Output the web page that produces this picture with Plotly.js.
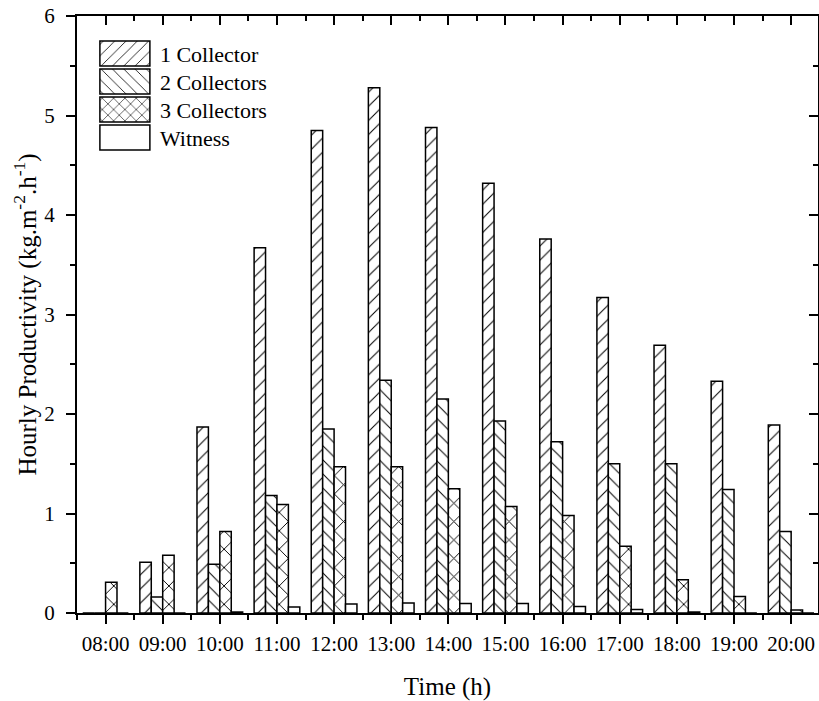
<!DOCTYPE html>
<html>
<head>
<meta charset="utf-8">
<script src="https://cdn.plot.ly/plotly-3.0.1.min.js"></script>
<style>
  html, body { margin: 0; padding: 0; background: #fff; }
  #chart { width: 819px; height: 701px; }
</style>
</head>
<body>
<div id="chart"></div>
<script>
// ---- Data ----
var times = ['08:00', '09:00', '10:00', '11:00', '12:00', '13:00', '14:00',
             '15:00', '16:00', '17:00', '18:00', '19:00', '20:00'];
var oneCollector   = [0, 0.51, 1.87, 3.67, 4.85, 5.28, 4.88, 4.32, 3.76, 3.17, 2.69, 2.33, 1.89];
var twoCollectors  = [0, 0.16, 0.49, 1.18, 1.85, 2.34, 2.15, 1.93, 1.72, 1.50, 1.50, 1.24, 0.82];
var threeCollectors= [0.31, 0.58, 0.82, 1.09, 1.47, 1.47, 1.25, 1.07, 0.98, 0.67, 0.335, 0.165, 0.03];
var witness        = [0, 0, 0.01, 0.06, 0.09, 0.10, 0.095, 0.095, 0.066, 0.036, 0.01, 0, 0];
var seriesNames = ['1 Collector', '2 Collectors', '3 Collectors', 'Witness'];

// ---- Styling ----
var FONT = 'Liberation Serif, Times New Roman, serif';
var idx = times.map(function (t, i) { return i; });

function barTrace(name, values, shape, size, solidity) {
  return {
    type: 'bar',
    name: name,
    x: idx,
    y: values,
    marker: {
      color: 'white',
      line: { color: 'black', width: 1.5 },
      pattern: { shape: shape, fgcolor: 'black', bgcolor: 'white', size: size, solidity: solidity }
    },
    hoverinfo: 'x+y+name'
  };
}

var data = [
  barTrace(seriesNames[0], oneCollector, '/', 10, 0.1),
  barTrace(seriesNames[1], twoCollectors, '\\', 10, 0.1),
  barTrace(seriesNames[2], threeCollectors, 'x', 13, 0.14),
  barTrace(seriesNames[3], witness, '', 10, 0.1),
  // invisible helper trace so the mirrored frame axes (top / right) are drawn
  { type: 'scatter', mode: 'none', x: idx, y: oneCollector, xaxis: 'x2', yaxis: 'y2',
    showlegend: false, hoverinfo: 'skip' }
];

var xRange = [-0.5, 12.47];
var commonX = {
  range: xRange,
  tickmode: 'array',
  tickvals: idx,
  showline: true,
  linecolor: 'black',
  linewidth: 2,
  showgrid: false,
  zeroline: false,
  tickcolor: 'black',
  tickwidth: 2
};

var layout = {
  width: 819,
  height: 701,
  margin: { l: 77, r: 1, t: 16, b: 88 },
  paper_bgcolor: 'white',
  plot_bgcolor: 'white',
  barmode: 'group',
  bargap: 0.2,
  bargroupgap: 0,
  font: { family: FONT, color: 'black', size: 20 },
  showlegend: true,
  legend: {
    x: 0.0174, y: 0.972, xanchor: 'left', yanchor: 'top',
    bgcolor: 'rgba(0,0,0,0)',
    borderwidth: 0,
    itemwidth: 60,
    font: { family: FONT, size: 22, color: 'black' },
    tracegroupgap: 0
  },
  xaxis: Object.assign({}, commonX, {
    ticktext: times,
    ticks: 'outside',
    ticklen: 9,
    ticklabelstandoff: 2,
    tickfont: { family: FONT, size: 21, color: 'black' },
    minor: { tickmode: 'linear', tick0: -0.5, dtick: 1, ticks: 'outside', ticklen: 5, tickwidth: 2, tickcolor: 'black', showgrid: false },
    title: { text: 'Time (h)', font: { family: FONT, size: 25, color: 'black' }, standoff: 25 },
    automargin: false
  }),
  xaxis2: Object.assign({}, commonX, {
    overlaying: 'x',
    side: 'top',
    anchor: 'y2',
    ticks: 'inside',
    ticklen: 9,
    showticklabels: false,
    minor: { tickmode: 'linear', tick0: -0.5, dtick: 1, ticks: 'inside', ticklen: 5, tickwidth: 2, tickcolor: 'black', showgrid: false }
  }),
  yaxis: {
    range: [0, 6],
    tickmode: 'linear',
    tick0: 0,
    dtick: 1,
    ticks: 'outside',
    ticklen: 9,
    tickwidth: 2,
    tickcolor: 'black',
    showline: true,
    linecolor: 'black',
    linewidth: 2,
    showgrid: false,
    zeroline: false,
    ticklabelstandoff: 7,
    tickfont: { family: FONT, size: 21, color: 'black' },
    minor: { tickmode: 'linear', tick0: 0, dtick: 0.5, ticks: 'outside', ticklen: 5, tickwidth: 2, tickcolor: 'black', showgrid: false },
    title: { text: 'Hourly Productivity (kg.m<sup>-2</sup>.h<sup>-1</sup>)', font: { family: FONT, size: 25, color: 'black' }, standoff: 1 },
    automargin: false
  },
  yaxis2: {
    overlaying: 'y',
    side: 'right',
    anchor: 'x2',
    range: [0, 6],
    tickmode: 'linear',
    tick0: 0,
    dtick: 1,
    ticks: 'inside',
    ticklen: 9,
    tickwidth: 2,
    tickcolor: 'black',
    showline: true,
    linecolor: 'black',
    linewidth: 2,
    showgrid: false,
    zeroline: false,
    showticklabels: false,
    minor: { tickmode: 'linear', tick0: 0, dtick: 0.5, ticks: 'inside', ticklen: 5, tickwidth: 2, tickcolor: 'black', showgrid: false }
  }
};

Plotly.newPlot('chart', data, layout, { displayModeBar: false, staticPlot: true }).then(function (gd) {
  // Enlarge the legend sample boxes to resemble the reference's wide swatches
  var paths = gd.querySelectorAll('.legend .legendpoints path');
  paths.forEach(function (p) {
    p.setAttribute('d', 'M-25,12.5H25V-12.5H-25Z');
    p.style.strokeWidth = '1.5px';
    p.style.stroke = 'black';
  });
  // Tighten legend row spacing to match the reference (about 28 px per row)
  var items = gd.querySelectorAll('.legend .traces');
  var y0 = null;
  items.forEach(function (g, i) {
    var m = /translate\(\s*([-\d.]+)[ ,]+([-\d.]+)\s*\)/.exec(g.getAttribute('transform') || '');
    if (!m) return;
    if (y0 === null) y0 = parseFloat(m[2]);
    g.setAttribute('transform', 'translate(' + m[1] + ',' + (y0 + i * 28) + ')');
  });
});
</script>
</body>
</html>
